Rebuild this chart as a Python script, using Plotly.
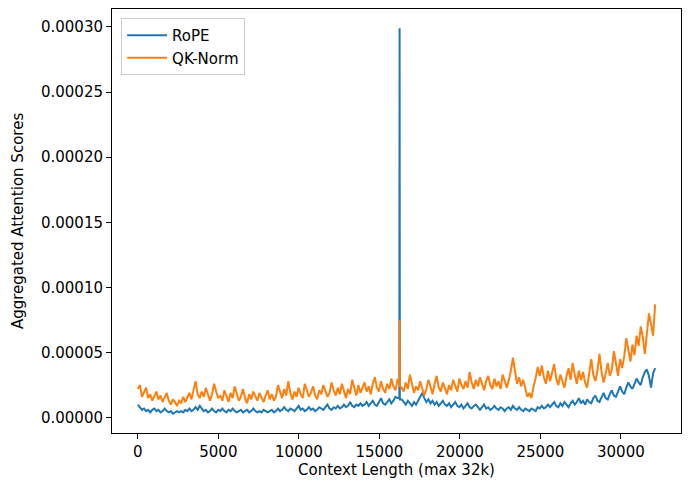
import numpy as np
import plotly.graph_objects as go

# sample spacing along the context (tokens)
step = 128
# RoPE aggregated attention scores, in units of 1e-5
rope_e5 = [
    1.0,0.8,0.6,0.7,0.5,0.6,0.4,0.6,0.7,0.5,
    0.6,0.4,0.5,0.7,0.5,0.4,0.5,0.3,0.4,0.5,
    0.4,0.5,0.4,0.6,0.5,0.7,0.5,0.6,0.8,0.6,
    0.9,0.7,0.5,0.6,0.4,0.5,0.7,0.5,0.4,0.6,
    0.5,0.7,0.5,0.4,0.6,0.5,0.7,0.5,0.4,0.5,
    0.6,0.4,0.5,0.6,0.4,0.5,0.7,0.5,0.4,0.5,
    0.4,0.6,0.5,0.4,0.5,0.6,0.4,0.5,0.7,0.5,
    0.6,0.8,0.6,0.5,0.7,0.6,0.5,0.7,0.9,0.6,
    0.7,0.5,0.6,0.8,0.6,0.7,0.5,0.6,0.8,0.7,
    0.6,0.8,1.0,0.7,0.6,0.8,0.7,0.9,0.7,0.8,
    1.0,0.8,0.9,1.2,0.9,0.8,1.0,0.9,1.1,0.9,
    1.0,1.2,0.9,1.1,1.3,1.0,0.9,1.2,1.5,1.1,
    1.0,1.2,1.4,1.1,1.3,1.6,1.5,29.9,1.4,1.2,
    1.0,1.3,1.1,0.9,1.2,1.0,1.3,1.6,1.9,1.5,
    1.2,1.4,1.1,1.3,1.0,1.2,0.9,1.1,1.3,1.0,
    0.9,1.1,0.8,1.0,1.2,0.9,0.8,1.0,0.7,0.9,
    1.1,0.8,0.7,0.9,1.0,0.8,0.6,0.8,1.0,0.7,
    0.8,0.6,0.7,0.9,0.7,0.6,0.8,0.7,0.5,0.7,
    0.8,0.6,0.9,0.7,0.6,0.8,0.6,0.5,0.7,0.6,
    0.5,0.7,0.6,0.5,0.8,0.7,0.9,0.7,0.8,1.0,
    0.8,1.0,1.2,0.9,0.8,1.1,0.9,1.2,1.0,0.8,
    1.1,1.3,1.0,1.2,1.5,1.1,1.3,1.0,1.4,1.2,
    1.1,1.5,1.7,1.3,1.2,1.6,1.9,1.5,1.4,1.8,
    2.1,1.7,1.6,2.0,2.4,2.0,1.8,2.3,2.7,2.4,
    2.2,2.6,3.0,2.7,2.5,3.1,3.5,3.7,3.2,2.3,
    3.4,3.8,
]
# QK-Norm aggregated attention scores, in units of 1e-5
qknorm_e5 = [
    2.2,2.5,1.6,1.9,2.3,1.5,1.8,1.3,1.6,2.0,
    1.4,1.7,1.2,1.5,1.9,1.3,1.0,1.4,1.2,0.9,
    1.3,1.1,1.6,1.2,1.5,1.9,1.4,2.2,2.8,1.8,
    1.5,2.0,1.6,2.3,1.7,1.3,1.8,2.6,2.0,1.5,
    1.7,1.3,2.1,1.6,1.2,1.9,1.5,2.4,1.8,1.3,
    1.6,2.2,1.5,1.1,1.8,1.4,2.0,1.6,1.3,1.9,
    1.5,1.2,1.7,2.1,1.4,1.8,1.3,1.6,2.5,1.9,
    1.5,2.2,1.7,2.8,1.9,1.4,2.0,1.6,2.3,1.8,
    1.5,2.6,2.0,1.6,1.9,2.4,1.7,1.4,2.1,1.8,
    2.5,2.0,1.6,1.9,2.7,2.1,1.7,2.3,1.8,2.6,
    2.0,1.5,2.2,1.8,2.9,2.2,1.7,2.5,1.9,2.3,
    2.7,2.0,2.4,1.8,2.6,3.1,2.3,2.0,2.8,2.2,
    1.9,2.6,2.2,3.0,2.4,2.1,2.9,7.5,2.3,2.0,
    2.7,2.2,3.3,2.5,1.9,2.4,2.1,2.8,2.3,1.7,
    2.2,2.9,2.4,1.8,2.6,3.2,2.3,2.0,2.7,2.2,
    1.8,2.5,2.1,2.9,2.4,2.0,3.0,2.5,2.2,2.8,
    2.3,3.5,2.7,2.2,2.9,2.4,3.1,2.6,2.1,2.8,
    3.2,2.5,2.2,3.0,2.4,2.8,2.2,3.3,2.7,2.3,
    2.9,3.6,4.6,3.4,2.6,3.1,2.4,2.9,2.2,1.6,
    1.9,1.5,2.4,3.0,3.9,3.2,4.0,3.1,2.6,3.6,
    2.8,3.4,4.1,3.0,2.5,3.3,2.7,2.3,3.2,3.8,
    2.9,4.2,3.3,2.6,3.6,2.9,3.5,2.7,2.3,3.4,
    4.5,3.3,2.8,3.6,4.9,3.5,2.7,3.4,4.2,3.2,
    3.7,5.1,4.0,3.2,4.5,3.8,4.7,6.1,5.2,4.3,
    5.6,4.8,6.3,5.5,7.0,6.2,4.9,6.5,8.0,7.2,
    6.3,8.7,
]
# extra dense samples right beside the spike (tokens, and values in 1e-5)
extra_pos = [16240, 16272]
extra_rope_e5 = [1.5, 1.4]
extra_qknorm_e5 = [2.8, 2.4]

x_ticks = [0, 5000, 10000, 15000, 20000, 25000, 30000]
y_ticks = [0.0, 0.00005, 0.00010, 0.00015, 0.00020, 0.00025, 0.00030]

positions = np.concatenate([np.arange(len(rope_e5)) * step, extra_pos])
order = np.argsort(positions, kind="stable")
positions = positions[order]
rope = np.concatenate([rope_e5, extra_rope_e5])[order] * 1e-5
qknorm = np.concatenate([qknorm_e5, extra_qknorm_e5])[order] * 1e-5

font = dict(family="DejaVu Sans", size=15, color="black")

fig = go.Figure()
fig.add_trace(go.Scatter(x=positions, y=rope, mode="lines", name="RoPE",
                         line=dict(color="#1f77b4", width=2)))
fig.add_trace(go.Scatter(x=positions, y=qknorm, mode="lines", name="QK-Norm",
                         line=dict(color="#ff7f0e", width=2)))

xmin_d, xmax_d = positions.min(), positions.max()
xpad = 0.05 * (xmax_d - xmin_d)
ymin, ymax = min(rope.min(), qknorm.min()), max(rope.max(), qknorm.max())
ypad = 0.05 * (ymax - ymin)

axis_common = dict(showline=True, linecolor="black", linewidth=1, mirror=True,
                   ticks="outside", ticklen=5, tickcolor="black", showgrid=False,
                   zeroline=False, tickfont=font, automargin=False)

# the page body adds an 8px offset, so the figure is 8px smaller on each axis
fig.update_layout(
    width=684, height=474,
    margin=dict(l=104, r=11, t=1, b=49),
    paper_bgcolor="white", plot_bgcolor="white",
    font=font,
    xaxis=dict(range=[xmin_d - xpad, xmax_d + xpad], tickvals=x_ticks,
               ticktext=[str(v) for v in x_ticks], **axis_common),
    yaxis=dict(range=[ymin - ypad, ymax + ypad], tickvals=y_ticks,
               ticktext=[f"{v:.5f}" for v in y_ticks], **axis_common),
    legend=dict(x=0.016, y=0.979, xanchor="left", yanchor="top",
                bgcolor="rgba(255,255,255,0.85)", bordercolor="#cccccc", borderwidth=1,
                font=font, tracegroupgap=2, itemwidth=40),
    showlegend=True,
    annotations=[
        dict(text="Context Length (max 32k)", xref="paper", yref="paper",
             x=0.5, y=-0.087, xanchor="center", yanchor="middle",
             showarrow=False, font=font),
        dict(text="Aggregated Attention Scores", xref="paper", yref="paper",
             x=-0.165, y=0.5, xanchor="center", yanchor="middle", textangle=-90,
             showarrow=False, font=font),
    ],
)

fig.write_html("out.html")
